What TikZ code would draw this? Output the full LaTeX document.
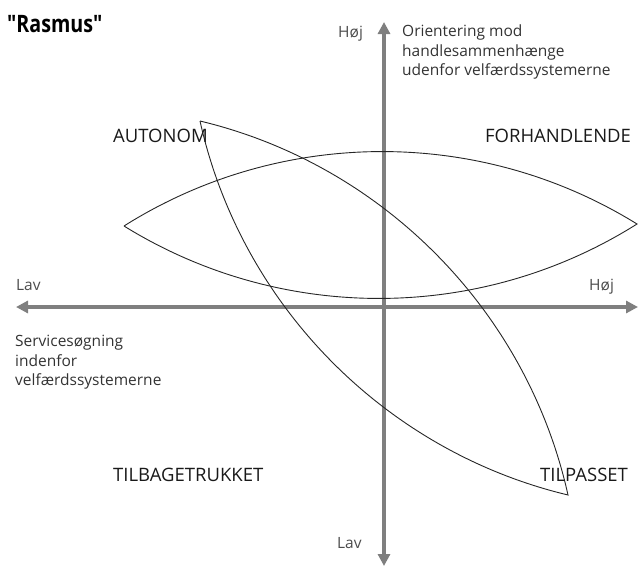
\documentclass[tikz,border=0pt]{standalone}
\usepackage{fontspec}
\setmainfont{Open Sans}
\newfontfamily\condbold[FakeStretch=0.82]{Open Sans}
\usetikzlibrary{arrows.meta,positioning}

\definecolor{axisgray}{HTML}{7F7F7F}

\begin{document}
\begin{tikzpicture}[x=1pt,y=-1pt,
    axis/.style={draw=axisgray,line width=3.5pt,
      {Triangle[length=12pt,width=12pt]}-{Triangle[length=12pt,width=12pt]}},
    lens/.style={draw=black!85,line width=0.9pt},
    quadrant/.style={inner sep=0pt,anchor=base west,font=\fontsize{18.5}{22}\selectfont,text=black!90},
    endlabel/.style={inner sep=0pt,anchor=base west,font=\fontsize{15.5}{19.5}\selectfont,text=black!70},
    axistext/.style={inner sep=0pt,anchor=north west,align=left,font=\fontsize{15.5}{19.5}\selectfont,text=black!80}]
    \useasboundingbox (0,0) rectangle (638,568);

    \node[inner sep=0pt,anchor=base west,font=\condbold\bfseries\fontsize{24}{28}\selectfont] (title) at (7,32) {"Rasmus"};

    % axes
    \coordinate (xl) at (16,307);
    \coordinate (xr) at (638,307);
    \coordinate (yt) at (384,22);
    \coordinate (yb) at (384,566);
    \draw[axis] (xl) -- (xr);
    \draw[axis] (yb) -- (yt);

    % lens tips
    \coordinate (l1w) at (124,226);
    \coordinate (l1e) at (637,224);
    \coordinate (l2n) at (200,121);
    \coordinate (l2s) at (568,495);
    \draw[lens] (l1w) to[bend left=32,looseness=0.92] (l1e) to[bend left=32,looseness=0.92] (l1w);
    \draw[lens] (l2n) to[bend left=32,looseness=0.92] (l2s) to[bend left=32,looseness=0.92] (l2n);

    \node[quadrant] (autonom) at (113,142) {AUTONOM};
    \node[quadrant] (forhandlende) at (485,142) {FORHANDLENDE};
    \node[quadrant] (tilbage) at (113,481) {TILBAGETRUKKET};
    \node[quadrant] (tilpasset) at (540,481) {TILPASSET};

    \node[endlabel] (hojtop) at (338,37) {Høj};
    \node[endlabel] (lavbund) at (337,548) {Lav};
    \node[endlabel] (lavvenstre) at (16,290) {Lav};
    \node[endlabel] (hojhojre) at (589,290) {Høj};

    \node[axistext] (udenfor) at (402,25) {Orientering mod\\handlesammenhænge\\udenfor velfærdssystemerne};
    \node[axistext] (indenfor) at (15,335) {Servicesøgning\\indenfor\\velfærdssystemerne};
\end{tikzpicture}
\end{document}
